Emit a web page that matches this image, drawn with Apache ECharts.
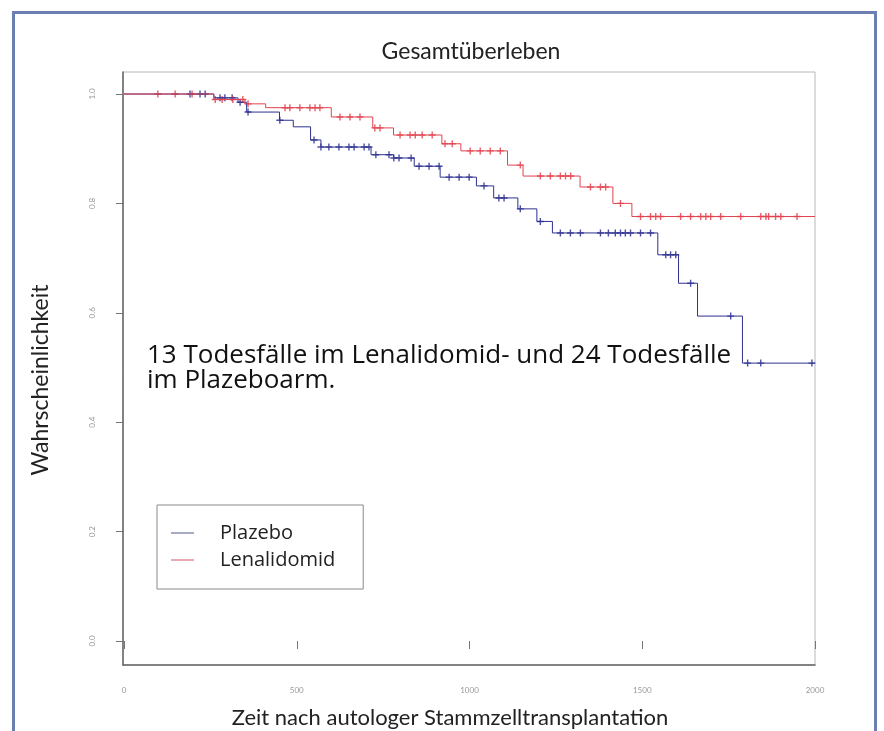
<!DOCTYPE html>
<html>
<head>
<meta charset="utf-8">
<script src="https://cdn.jsdelivr.net/npm/echarts@6/dist/echarts.min.js"></script>
<style>
  html, body { margin: 0; padding: 0; background: #fff; }
  #chart { width: 884px; height: 731px; }
</style>
</head>
<body>
<div id="chart"></div>
<script>
var myChart = echarts.init(document.getElementById('chart'));

// Kaplan-Meier steps (days, survival)
var plazeboTimes = [0, 260, 330, 355, 450, 490, 540, 570, 715, 780, 840, 915, 1020, 1070, 1140, 1195, 1240, 1545, 1605, 1660, 1790, 2000];
var plazeboSurv  = [1.0, 0.993, 0.985, 0.967, 0.952, 0.940, 0.916, 0.903, 0.889, 0.883, 0.868, 0.848, 0.832, 0.810, 0.790, 0.767, 0.746, 0.706, 0.654, 0.594, 0.508, 0.508];
var lenaTimes = [0, 260, 350, 410, 600, 720, 780, 920, 975, 1110, 1155, 1320, 1415, 1470, 2000];
var lenaSurv  = [1.0, 0.99, 0.982, 0.975, 0.958, 0.938, 0.925, 0.909, 0.896, 0.870, 0.850, 0.830, 0.800, 0.776, 0.776];

// censored observations (days)
var plazeboCensor = [191, 220, 235, 278, 292, 313, 336, 359, 451, 550, 570, 593, 622, 651, 666, 695, 709, 729, 767, 781, 796, 831, 854, 883, 912, 941, 970, 999, 1042, 1085, 1100, 1147, 1205, 1263, 1292, 1321, 1379, 1402, 1422, 1437, 1451, 1466, 1495, 1524, 1568, 1582, 1597, 1640, 1756, 1805, 1843, 1991];
var lenaCensor = [98, 148, 197, 264, 284, 315, 344, 359, 466, 480, 509, 538, 553, 567, 625, 654, 683, 726, 741, 799, 828, 843, 863, 892, 929, 950, 1002, 1031, 1060, 1089, 1147, 1205, 1234, 1263, 1278, 1293, 1350, 1379, 1394, 1437, 1495, 1524, 1539, 1553, 1611, 1640, 1669, 1684, 1698, 1727, 1785, 1843, 1858, 1866, 1886, 1901, 1948];

var blue = '#2e3190';
var red = '#e2434f';
var plus = 'path://M4,0 L6,0 L6,4 L10,4 L10,6 L6,6 L6,10 L4,10 L4,6 L0,6 L0,4 L4,4 Z';

function pairs(t, s) {
	var out = [];
	for (var i = 0; i < t.length; i++) out.push([t[i], s[i]]);
	return out;
}
function survAt(t, s, x) {
	var v = s[0];
	for (var i = 0; i < t.length; i++) {
		if (t[i] <= x) v = s[i];
	}
	return v;
}
function censorPoints(c, t, s) {
	return c.map(function (x) { return [x, survAt(t, s, x)]; });
}

var font = 'Lato, "Open Sans", sans-serif';
var wide = '"Open Sans", Lato, sans-serif';

myChart.setOption({
	animation: false,
	textStyle: { fontFamily: font },
	title: {
		text: 'Gesamtüberleben',
		left: 466,
		top: 35,
		textAlign: 'center',
		textStyle: { fontSize: 23, fontWeight: 'normal', color: '#222', fontFamily: font }
	},
	grid: [
		{ left: 124, right: 69, top: 94, bottom: 90 },
		{ left: 123, right: 69, top: 72, bottom: 66, show: true, borderColor: '#b8b8b8', borderWidth: 1, backgroundColor: 'transparent' }
	],
	legend: {
		left: 157,
		top: 505,
		orient: 'vertical',
		borderColor: '#8a8a8a',
		borderWidth: 1,
		padding: [18, 28, 19, 13],
		itemWidth: 23,
		itemHeight: 20,
		itemGap: 7,
		textStyle: { fontSize: 20, color: '#222', fontFamily: wide, padding: [0, 0, 0, 21] },
		data: [
			{ name: 'Plazebo', itemStyle: { opacity: 0 }, lineStyle: { color: '#a9aac6', width: 2 } },
			{ name: 'Lenalidomid', itemStyle: { opacity: 0 }, lineStyle: { color: '#eaaab2', width: 2 } }
		]
	},
	xAxis: [
		{
			type: 'value', gridIndex: 0, min: 0, max: 2000, interval: 500, offset: 24,
			axisLine: { show: false },
			axisTick: { show: true, length: 8, lineStyle: { color: '#777' } },
			axisLabel: { fontSize: 8, color: '#999', margin: 21, formatter: function (v) { return String(v); } },
			splitLine: { show: false }
		},
		{
			type: 'value', gridIndex: 1, min: 0, max: 1,
			axisLine: { show: true, lineStyle: { color: '#666', width: 1.5 } },
			axisTick: { show: false }, axisLabel: { show: false }, splitLine: { show: false }
		}
	],
	yAxis: [
		{
			type: 'value', gridIndex: 0, min: 0, max: 1, interval: 0.2,
			axisLine: { show: false },
			axisTick: { show: true, length: 8, lineStyle: { color: '#777' } },
			axisLabel: { fontSize: 8, color: '#999', margin: 28, rotate: 90, formatter: function (v) { return v.toFixed(1); } },
			splitLine: { show: false }
		},
		{
			type: 'value', gridIndex: 1, min: 0, max: 1,
			axisLine: { show: true, lineStyle: { color: '#666', width: 1.5 } },
			axisTick: { show: false }, axisLabel: { show: false }, splitLine: { show: false }
		}
	],
	graphic: [
		{
			type: 'rect', left: 11, top: 10, z: 100, silent: true,
			shape: { width: 862, height: 760 },
			style: { fill: 'none', stroke: '#6b7fb2', lineWidth: 3 }
		},
		{
			type: 'text', left: 147, top: 343, z: 100,
			style: { text: '13 Todesfälle im Lenalidomid- und 24 Todesfälle\nim Plazeboarm.', font: '26px ' + wide, fill: '#111', lineHeight: 25 }
		},
		{
			type: 'text', x: 450, y: 718, z: 100,
			style: { text: 'Zeit nach autologer Stammzelltransplantation', font: '22px ' + font, fill: '#222', textAlign: 'center', textVerticalAlign: 'middle' }
		},
		{
			type: 'text', x: 41, y: 380, rotation: Math.PI / 2, z: 100,
			style: { text: 'Wahrscheinlichkeit', font: '23px ' + font, fill: '#222', textAlign: 'center', textVerticalAlign: 'middle' }
		}
	],
	series: [
		{
			name: 'Plazebo', type: 'line', step: 'end', xAxisIndex: 0, yAxisIndex: 0,
			data: pairs(plazeboTimes, plazeboSurv),
			symbol: 'none', clip: false,
			lineStyle: { color: blue, width: 1 }, itemStyle: { color: blue }
		},
		{
			name: 'Lenalidomid', type: 'line', step: 'end', xAxisIndex: 0, yAxisIndex: 0,
			data: pairs(lenaTimes, lenaSurv),
			symbol: 'none', clip: false,
			lineStyle: { color: red, width: 1 }, itemStyle: { color: red }
		},
		{
			name: 'Plazebo zensiert', type: 'scatter', xAxisIndex: 0, yAxisIndex: 0,
			data: censorPoints(plazeboCensor, plazeboTimes, plazeboSurv),
			symbol: plus, symbolSize: 7, clip: false,
			itemStyle: { color: blue, opacity: 0.85 }
		},
		{
			name: 'Lenalidomid zensiert', type: 'scatter', xAxisIndex: 0, yAxisIndex: 0,
			data: censorPoints(lenaCensor, lenaTimes, lenaSurv),
			symbol: plus, symbolSize: 7, clip: false,
			itemStyle: { color: red, opacity: 0.85 }
		}
	]
});

window.addEventListener('resize', function () {
	myChart.resize();
});
</script>
</body>
</html>
